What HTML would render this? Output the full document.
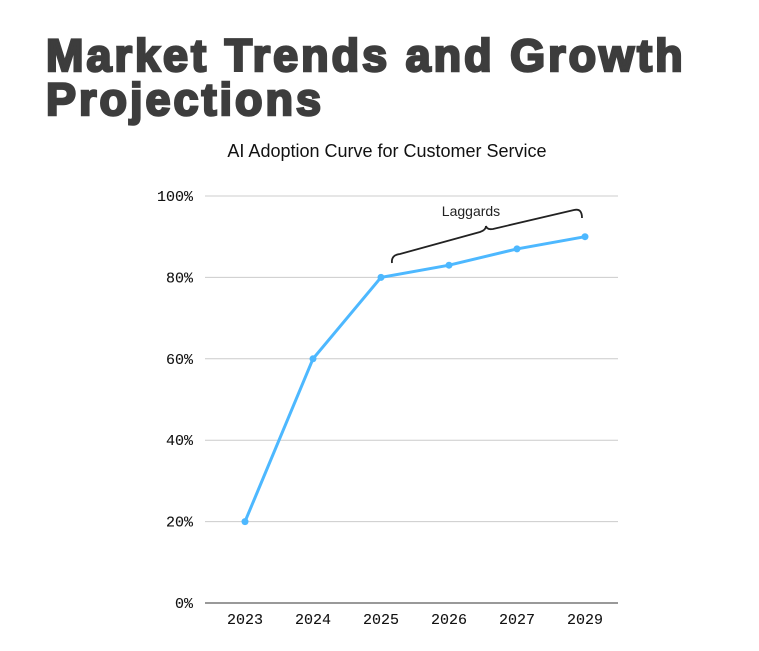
<!DOCTYPE html>
<html><head><meta charset="utf-8"><style>
body{margin:0;background:#fff;width:759px;height:651px;overflow:hidden;font-family:"Liberation Sans",sans-serif}
h1{position:absolute;left:46px;top:34px;margin:0;font-size:45px;line-height:44px;font-weight:900;color:#3d3d3d;letter-spacing:3px;-webkit-text-stroke:2.5px #3d3d3d}
svg{position:absolute;left:0;top:0}
</style></head><body>
<h1>Market Trends and Growth<br>Projections</h1>
<svg width="759" height="651">
<text x="387" y="157" text-anchor="middle" font-size="18" fill="#111">AI Adoption Curve for Customer Service</text>
<g id="grid"></g><g id="xt"></g><g id="line"></g>
<path d="M392,263 Q391,255 400,254 L480,232 Q486,230 486,226 Q487,230 493,229 L574,210 Q582,208 582,218" fill="none" stroke="#222" stroke-width="1.8"/>
<text x="471" y="216" text-anchor="middle" font-size="14" fill="#222">Laggards</text>
</svg>
<script>
const categories=["2023","2024","2025","2026","2027","2029"];
const values=[20,60,80,83,87,90];
const yTicks=[0,20,40,60,80,100];
const ns="http://www.w3.org/2000/svg";
const x=i=>245+i*68, y=v=>603-v*4.07;
function mk(t,a,p){const e=document.createElementNS(ns,t);for(const k in a)e.setAttribute(k,a[k]);p.appendChild(e);return e;}
const g=document.getElementById('grid');
yTicks.forEach(v=>{
 const l=mk('line',{x1:205,x2:618,y1:y(v),y2:y(v),stroke:v==0?'#333':'#ccc','stroke-width':1},g);
 
 
 const t=mk('text',{x:193,y:y(v)+5,'text-anchor':'end','font-size':15,'font-family':'Liberation Mono, monospace',fill:'#111','stroke':'#111','stroke-width':0.1},g);
 t.textContent=v+'%';
 
 
});
const xt=document.getElementById('xt');
categories.forEach((c,i)=>{
 const t=mk('text',{x:x(i),y:624,'text-anchor':'middle','font-size':15,'font-family':'Liberation Mono, monospace',fill:'#111','stroke':'#111','stroke-width':0.1},xt);
 t.textContent=c;
 
 
});
const lg=document.getElementById('line');
const p=mk('polyline',{points:values.map((v,i)=>x(i)+','+y(v)).join(' '),fill:'none',stroke:'#4db8ff','stroke-width':3},lg);


values.forEach((v,i)=>{
 const c=mk('circle',{cx:x(i),cy:y(v),r:3.5,fill:'#4db8ff'},lg);
 
 
});
</script>
</body></html>
